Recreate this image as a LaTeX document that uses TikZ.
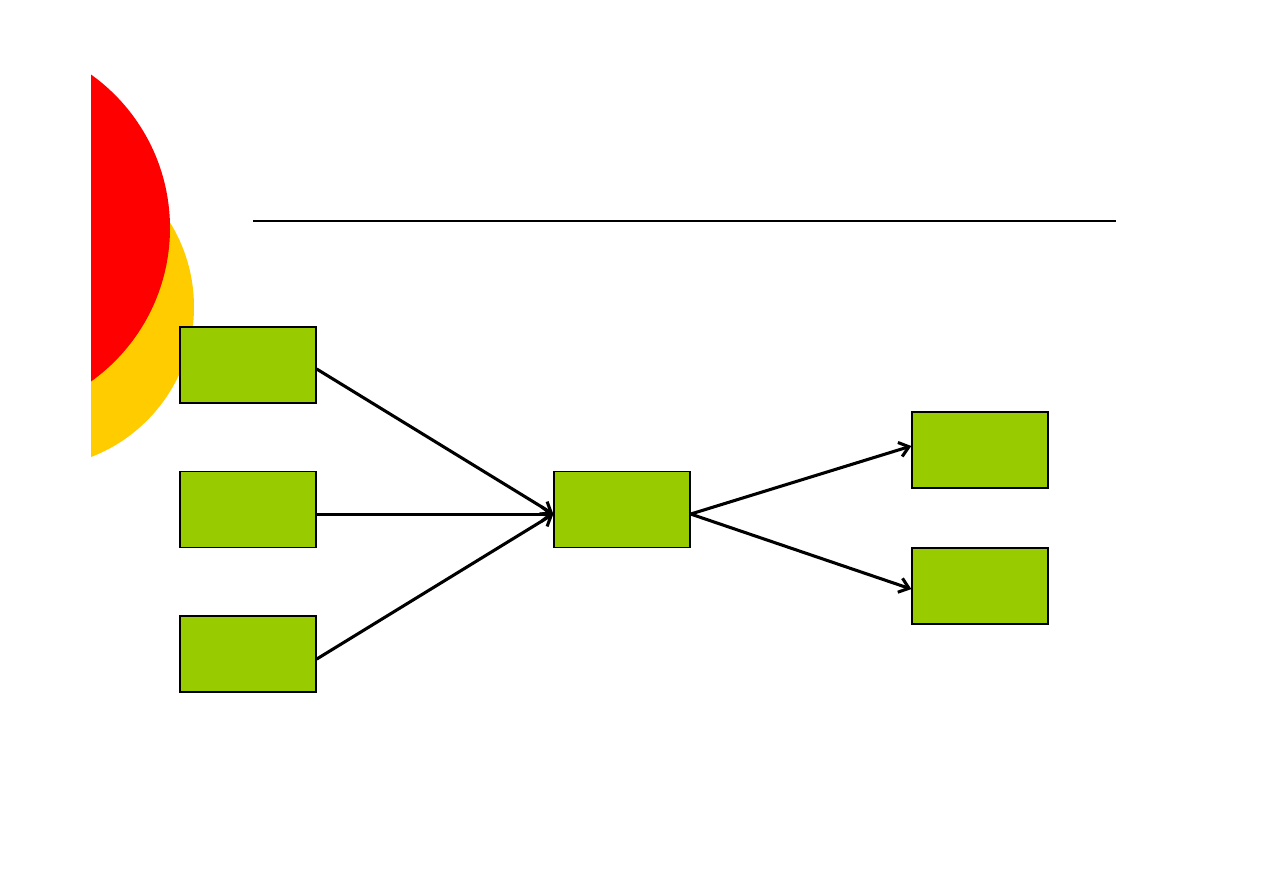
\documentclass[tikz,border=0pt]{standalone}
\usepackage{tikz}
\usetikzlibrary{arrows.meta, positioning}
\definecolor{leaf}{HTML}{99CC00}
\definecolor{sunred}{HTML}{FF0000}
\definecolor{sunyellow}{HTML}{FFCC00}
\tikzset{
  >={Straight Barb[length=7pt, width=11pt]},
  %
  box/.style={draw=black, line width=1pt, fill=leaf, inner sep=0pt,
              minimum width=102pt, minimum height=57pt},
  %
  flow/.style={draw=black, line width=2.3pt, ->},
  rulebar/.style={draw=black, line width=1.5pt},
}
\begin{document}
\begin{tikzpicture}[x=0.75pt, y=-0.75pt]
  \useasboundingbox (0,0) rectangle (1263,893);

  % --- the two discs on the left edge -----------------------------------
  \begin{scope}
    \clip (91,0) rectangle (1263,893);
    \fill[sunyellow] (33.3,307) circle[radius=160.7];
    \fill[sunred] (-18.6,228) circle[radius=188.6];
  \end{scope}

  % --- title rule --------------------------------------------------------
  \coordinate (ruleL) at (253,221);
  \coordinate (ruleR) at (1116,221);
  \draw[rulebar] (ruleL) -- (ruleR);

  % --- the boxes ---------------------------------------------------------
  \node[box] (in1) at (248,365) {};
  \node[box] (in2) at (248,509.5) {};
  \node[box] (in3) at (248,654) {};
  \node[box] (hub) at (622,509.5) {};
  \node[box] (out1) at (980,450) {};
  \node[box] (out2) at (980,586) {};

  % --- the flows ---------------------------------------------------------
  \draw[flow] ([yshift=-3pt]in1.east) -- ([yshift=-3.4pt]hub.west);
  \draw[flow] ([yshift=-3.4pt]in2.east) -- ([yshift=-3.4pt]hub.west);
  \draw[flow] ([yshift=-3.8pt]in3.east) -- ([yshift=-3.4pt]hub.west);
  \draw[flow] ([yshift=-3.4pt]hub.east) -- ([yshift=3pt]out1.west);
  \draw[flow] ([yshift=-3.4pt]hub.east) -- ([yshift=-2.3pt]out2.west);

\end{tikzpicture}
\end{document}
